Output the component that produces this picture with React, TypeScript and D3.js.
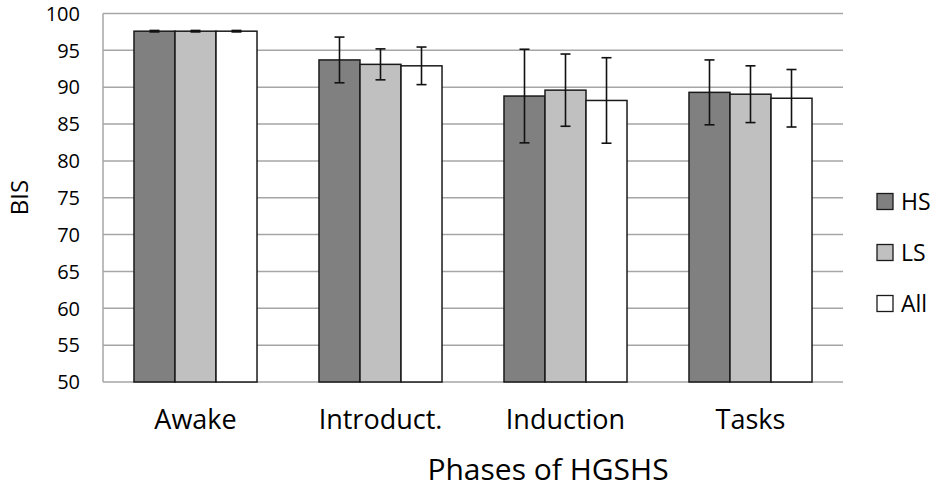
import { useEffect, useRef } from "react";
import * as d3 from "d3";

const categories = ["Awake", "Introduct.", "Induction", "Tasks"];
const seriesNames = ["HS", "LS", "All"];
const seriesColors = ["#808080", "#c0c0c0", "#ffffff"];

// mean values per series, in category order
const hsValues = [97.6, 93.7, 88.8, 89.3];
const lsValues = [97.6, 93.1, 89.6, 89.05];
const allValues = [97.6, 92.9, 88.2, 88.5];

// error bar half-widths (SD)
const hsErrors = [0.1, 3.1, 6.35, 4.4];
const lsErrors = [0.1, 2.1, 4.9, 3.85];
const allErrors = [0.1, 2.55, 5.8, 3.9];

const yTicks = [50, 55, 60, 65, 70, 75, 80, 85, 90, 95, 100];

const FONT = "'Open Sans', Lato, sans-serif";

export default function App() {
  const svgRef = useRef<SVGSVGElement>(null);

  useEffect(() => {
    if (!svgRef.current) return;
    const svg = d3.select(svgRef.current);
    svg.selectAll("*").remove();

    const width = 935;
    const height = 490;
    const margin = { top: 13.5, right: 92, bottom: 108, left: 103 };

    const values = [hsValues, lsValues, allValues];
    const errors = [hsErrors, lsErrors, allErrors];

    const x0 = d3
      .scaleBand()
      .domain(categories)
      .range([margin.left, width - margin.right])
      .paddingInner(0.335)
      .paddingOuter(0.1675);

    const x1 = d3.scaleBand().domain(seriesNames).range([0, x0.bandwidth()]);

    const y = d3
      .scaleLinear()
      .domain([50, 100])
      .range([height - margin.bottom, margin.top]);

    // Gridlines
    svg
      .append("g")
      .selectAll("line")
      .data(yTicks)
      .join("line")
      .attr("x1", margin.left)
      .attr("x2", width - margin.right)
      .attr("y1", (d) => y(d))
      .attr("y2", (d) => y(d))
      .attr("stroke", "#a6a6a6")
      .attr("stroke-width", 1.5);

    // left axis line
    svg
      .append("line")
      .attr("x1", margin.left)
      .attr("x2", margin.left)
      .attr("y1", y(100))
      .attr("y2", y(50))
      .attr("stroke", "#a6a6a6")
      .attr("stroke-width", 1.5);

    // Y tick labels
    svg
      .append("g")
      .selectAll("text")
      .data(yTicks)
      .join("text")
      .attr("x", 80)
      .attr("y", (d) => y(d))
      .attr("dy", "0.36em")
      .attr("text-anchor", "end")
      .attr("font-family", FONT)
      .attr("font-size", 20)
      .attr("fill", "#000")
      .text((d) => d);

    // Bars
    const rows = categories.flatMap((c, ci) =>
      seriesNames.map((s, si) => ({
        cat: c,
        series: s,
        color: seriesColors[si],
        value: values[si][ci],
        err: errors[si][ci],
      }))
    );

    svg
      .append("g")
      .selectAll("rect")
      .data(rows)
      .join("rect")
      .attr("x", (d) => x0(d.cat)! + x1(d.series)!)
      .attr("y", (d) => y(d.value))
      .attr("width", x1.bandwidth())
      .attr("height", (d) => y(50) - y(d.value))
      .attr("fill", (d) => d.color)
      .attr("stroke", "#1a1a1a")
      .attr("stroke-width", 1.5);

    // Error bars
    const eb = svg.append("g").attr("stroke", "#111").attr("stroke-width", 1.6);
    rows.forEach((d) => {
      const cx = x0(d.cat)! + x1(d.series)! + x1.bandwidth() / 2;
      const top = y(d.value + d.err);
      const bot = y(d.value - d.err);
      eb.append("line").attr("x1", cx).attr("x2", cx).attr("y1", top).attr("y2", bot);
      eb.append("line").attr("x1", cx - 5).attr("x2", cx + 5).attr("y1", top).attr("y2", top);
      eb.append("line").attr("x1", cx - 5).attr("x2", cx + 5).attr("y1", bot).attr("y2", bot);
    });

    // Category labels
    svg
      .append("g")
      .selectAll("text")
      .data(categories)
      .join("text")
      .attr("x", (d) => x0(d)! + x0.bandwidth() / 2)
      .attr("y", 429)
      .attr("text-anchor", "middle")
      .attr("font-family", FONT)
      .attr("font-size", 27)
      .attr("fill", "#000")
      .text((d) => d);

    // X axis title
    svg
      .append("text")
      .attr("x", 548)
      .attr("y", 480)
      .attr("text-anchor", "middle")
      .attr("font-family", FONT)
      .attr("font-size", 30)
      .attr("fill", "#000")
      .text("Phases of HGSHS");

    // Y axis title
    svg
      .append("text")
      .attr("transform", `translate(28, 197.5) rotate(-90)`)
      .attr("text-anchor", "middle")
      .attr("font-family", FONT)
      .attr("font-size", 24)
      .attr("fill", "#000")
      .text("BIS");

    // Legend
    const legend = svg
      .append("g")
      .selectAll("g")
      .data(seriesNames)
      .join("g")
      .attr("transform", (_, i) => `translate(877, ${201.5 + i * 51})`);

    legend
      .append("rect")
      .attr("x", 0)
      .attr("y", -8)
      .attr("width", 16)
      .attr("height", 16)
      .attr("fill", (_, i) => seriesColors[i])
      .attr("stroke", "#1a1a1a")
      .attr("stroke-width", 1.3);

    legend
      .append("text")
      .attr("x", 24)
      .attr("y", 0)
      .attr("dy", "0.36em")
      .attr("font-family", FONT)
      .attr("font-size", 23)
      .attr("fill", "#000")
      .text((d) => d);
  }, []);

  return (
    <svg
      ref={svgRef}
      width={935}
      height={490}
      style={{ position: "absolute", left: 0, top: 0, background: "#fff" }}
    />
  );
}
